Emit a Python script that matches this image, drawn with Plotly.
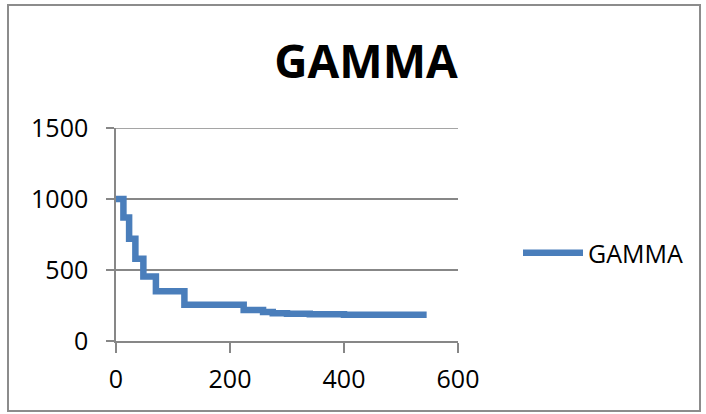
import plotly.graph_objects as go

# Best value found so far, recorded at the iteration where it improved
iterations = [0, 13, 23, 34, 48, 70, 120, 224, 258, 275, 300, 340, 400, 545]
gamma_values = [1000, 870, 720, 580, 455, 350, 255, 218, 205, 196, 192, 188, 184, 184]

x_ticks = [0, 200, 400, 600]
y_ticks = [0, 500, 1000, 1500]

series_name = "GAMMA"
chart_title = "GAMMA"

W, H = 706, 414
L, R, T, B = 116, 248, 128, 73
pw, ph = W - L - R, H - T - B

fig = go.Figure()
fig.add_trace(go.Scatter(
    x=iterations, y=gamma_values, mode="lines", name=series_name,
    line=dict(color="#4a7ebb", width=6.5, shape="hv"),
))

grid = "#878787"
font = "Open Sans, Liberation Sans, sans-serif"

# top gridline sits on the plot edge, so draw it explicitly
top_grid = dict(type="line", xref="paper", yref="y", x0=0, x1=1,
                y0=y_ticks[-1], y1=y_ticks[-1],
                line=dict(color=grid, width=1.5), layer="below")

frame = dict(type="rect", xref="paper", yref="paper",
             x0=(8 - L) / pw, x1=(700 - L) / pw,
             y0=1 - (411 - T) / ph, y1=1 - (5 - T) / ph,
             line=dict(color="#8c8c8c", width=2), layer="below")

fig.update_layout(
    width=W, height=H,
    margin=dict(l=L, r=R, t=T, b=B, pad=0),
    paper_bgcolor="white", plot_bgcolor="white",
    showlegend=True,
    title=dict(text=f"<b>{chart_title}</b>", x=366 / W, xanchor="center",
               y=1 - 62 / H, yanchor="middle", xref="container", yref="container",
               font=dict(family=font, size=46, color="black")),
    legend=dict(x=(518 - L) / pw, xanchor="left", y=1 - (253 - T) / ph, yanchor="middle",
                font=dict(family=font, size=25, color="black"),
                itemwidth=60, bgcolor="rgba(0,0,0,0)"),
    font=dict(family=font, color="black"),
    xaxis=dict(range=[0, 600], tickvals=x_ticks, showgrid=False, zeroline=False,
               showline=True, linecolor=grid, linewidth=1.5,
               ticks="outside", ticklen=10, tickcolor=grid, tickwidth=1.5,
               tickfont=dict(size=25, family=font, color="black"),
               ticklabelstandoff=5),
    yaxis=dict(range=[0, 1500], tickvals=y_ticks, showgrid=True, gridcolor=grid,
               gridwidth=1.5, zeroline=False, showline=True, linecolor=grid,
               linewidth=1.5, ticks="outside", ticklen=8, tickcolor=grid, tickwidth=1.5,
               tickfont=dict(size=25, family=font, color="black"),
               ticklabelstandoff=13),
    shapes=[frame, top_grid],
)

fig.write_html("out.html")
